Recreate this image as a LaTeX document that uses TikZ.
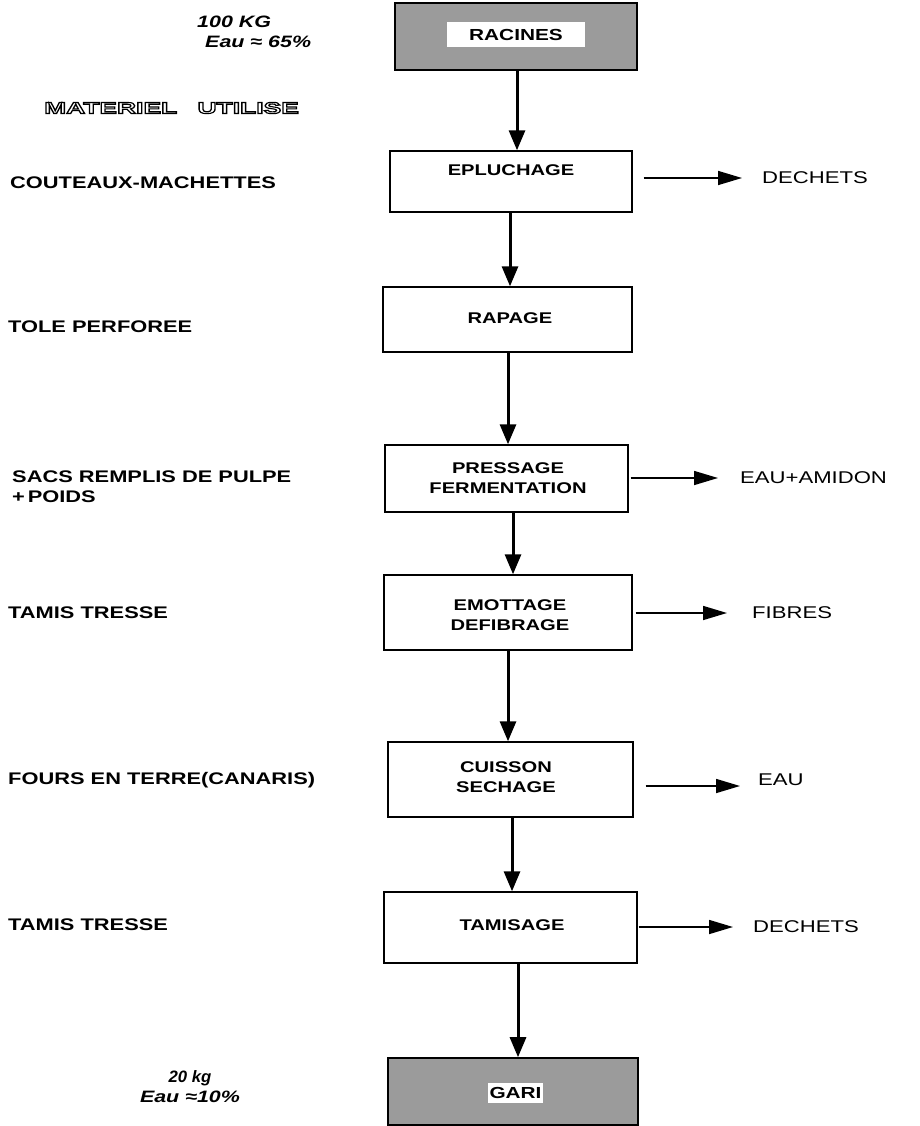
\documentclass[tikz,border=0pt]{standalone}
\usepackage{fontspec}
\setmainfont{Liberation Sans}[FakeStretch=1.3]
\usetikzlibrary{arrows.meta,calc}
\definecolor{boxgray}{RGB}{155,155,155}
\newcommand\hollowtext[1]{{\leavevmode\special{pdf:literal direct 1 Tr 1.1 w}#1\special{pdf:literal direct 0 Tr}}}
\tikzset{
 box/.style={draw=black, line width=1.4pt, fill=white, inner sep=0pt},
 graybox/.style={draw=black, line width=1.6pt, fill=boxgray, inner sep=0pt},
 whitelab/.style={fill=white, inner sep=0pt, font=\bfseries\fontsize{16}{18}\selectfont},
 boxtxt/.style={inner sep=0pt, align=center, font=\bfseries\fontsize{15.5}{20}\selectfont},
 lefttxt/.style={anchor=west, inner sep=0pt, align=left, font=\bfseries\fontsize{16.8}{20}\selectfont},
 outtxt/.style={anchor=west, inner sep=0pt, font=\fontsize{17}{19}\selectfont},
 notetxt/.style={inner sep=0pt, align=left, font=\bfseries\itshape\fontsize{16.5}{20}\selectfont},
 varrow/.style={line width=3pt, -{Triangle[length=20pt,width=16pt]}},
 harrow/.style={line width=1.6pt, -{Triangle[length=24pt,width=14pt]}},
}
\begin{document}
\begin{tikzpicture}[x=1pt,y=-1pt]
\useasboundingbox (0,0) rectangle (920,1126);
% process boxes
\node[graybox, minimum width=242pt, minimum height=67pt] (rac) at (516,36.5) {};
\node[whitelab, minimum width=138pt, minimum height=25pt] (racl) at (516,34.5) {RACINES};
\node[box, minimum width=242pt, minimum height=61pt] (ep) at (511,181.5) {};
\node[boxtxt] (ept) at (511,170) {EPLUCHAGE};
\node[box, minimum width=249pt, minimum height=65pt] (ra) at (507.5,319.5) {};
\node[boxtxt] (rat) at (510,318) {RAPAGE};
\node[box, minimum width=243pt, minimum height=67pt] (pr) at (506.5,478.5) {};
\node[boxtxt] (prt) at (508,478) {PRESSAGE\\FERMENTATION};
\node[box, minimum width=248pt, minimum height=75pt] (em) at (508,612.5) {};
\node[boxtxt] (emt) at (510,615) {EMOTTAGE\\DEFIBRAGE};
\node[box, minimum width=245pt, minimum height=75pt] (cu) at (510.5,779.5) {};
\node[boxtxt] (cut) at (506,777) {CUISSON\\SECHAGE};
\node[box, minimum width=253pt, minimum height=71pt] (ta) at (510.5,927.5) {};
\node[boxtxt] (tat) at (512,925) {TAMISAGE};
\node[graybox, minimum width=250pt, minimum height=67pt] (ga) at (513,1091.5) {};
\node[whitelab, minimum width=55pt, minimum height=20pt] (gal) at (515.5,1093) {GARI};
% vertical arrow positions
\coordinate (v1) at (517,0);
\coordinate (v2) at (510,0);
\coordinate (v3) at (508,0);
\coordinate (v4) at (513,0);
\coordinate (v5) at (508,0);
\coordinate (v6) at (512,0);
\coordinate (v7) at (518,0);
\draw[varrow] (rac.south -| v1) -- (ep.north -| v1);
\draw[varrow] (ep.south -| v2) -- (ra.north -| v2);
\draw[varrow] (ra.south -| v3) -- (pr.north -| v3);
\draw[varrow] (pr.south -| v4) -- (em.north -| v4);
\draw[varrow] (em.south -| v5) -- (cu.north -| v5);
\draw[varrow] (cu.south -| v6) -- (ta.north -| v6);
\draw[varrow] (ta.south -| v7) -- (ga.north -| v7);
% outputs
\node[outtxt] (d1) at (762,178) {DECHETS};
\node[outtxt] (d2) at (740,478) {EAU+AMIDON};
\node[outtxt] (d3) at (752,613) {FIBRES};
\node[outtxt] (d4) at (758,780) {EAU};
\node[outtxt] (d5) at (753,927) {DECHETS};
\draw[harrow] ($(ep.east)+(11,-3.5)$) -- ($(d1.west)+(-20,0)$);
\draw[harrow] ($(pr.east)+(2,-0.5)$) -- ($(d2.west)+(-22,0)$);
\draw[harrow] ($(em.east)+(3,0.5)$) -- ($(d3.west)+(-25,0)$);
\draw[harrow] ($(cu.east)+(12,6.5)$) -- ($(d4.west)+(-18,6)$);
\draw[harrow] ($(ta.east)+(1,-0.5)$) -- ($(d5.west)+(-20,0)$);
% left column
\node[notetxt, anchor=west] (kg1) at (197,22) {100 KG};
\node[notetxt, anchor=west] (eau1) at (205,42) {Eau ≈ 65\%};
\node[inner sep=0pt] (mat) at (171.5,108) {\bfseries\fontsize{16}{18}\selectfont\scalebox{1.27}[1]{\hollowtext{MATERIEL\hspace{1em}UTILISE}}};
\node[lefttxt] (l1) at (10,183) {COUTEAUX-MACHETTES};
\node[lefttxt] (l2) at (8,327) {TOLE PERFOREE};
\node[lefttxt] (l3) at (12,487) {SACS REMPLIS DE PULPE\\+\,POIDS};
\node[lefttxt] (l4) at (8,613) {TAMIS TRESSE};
\node[lefttxt] (l5) at (8,780) {FOURS EN TERRE(CANARIS)};
\node[lefttxt] (l6) at (8,925) {TAMIS TRESSE};
\node[notetxt, align=center] (kg2) at (190,1087) {\scalebox{0.78}[1]{20 kg}\\Eau ≈10\%};
\end{tikzpicture}
\end{document}
